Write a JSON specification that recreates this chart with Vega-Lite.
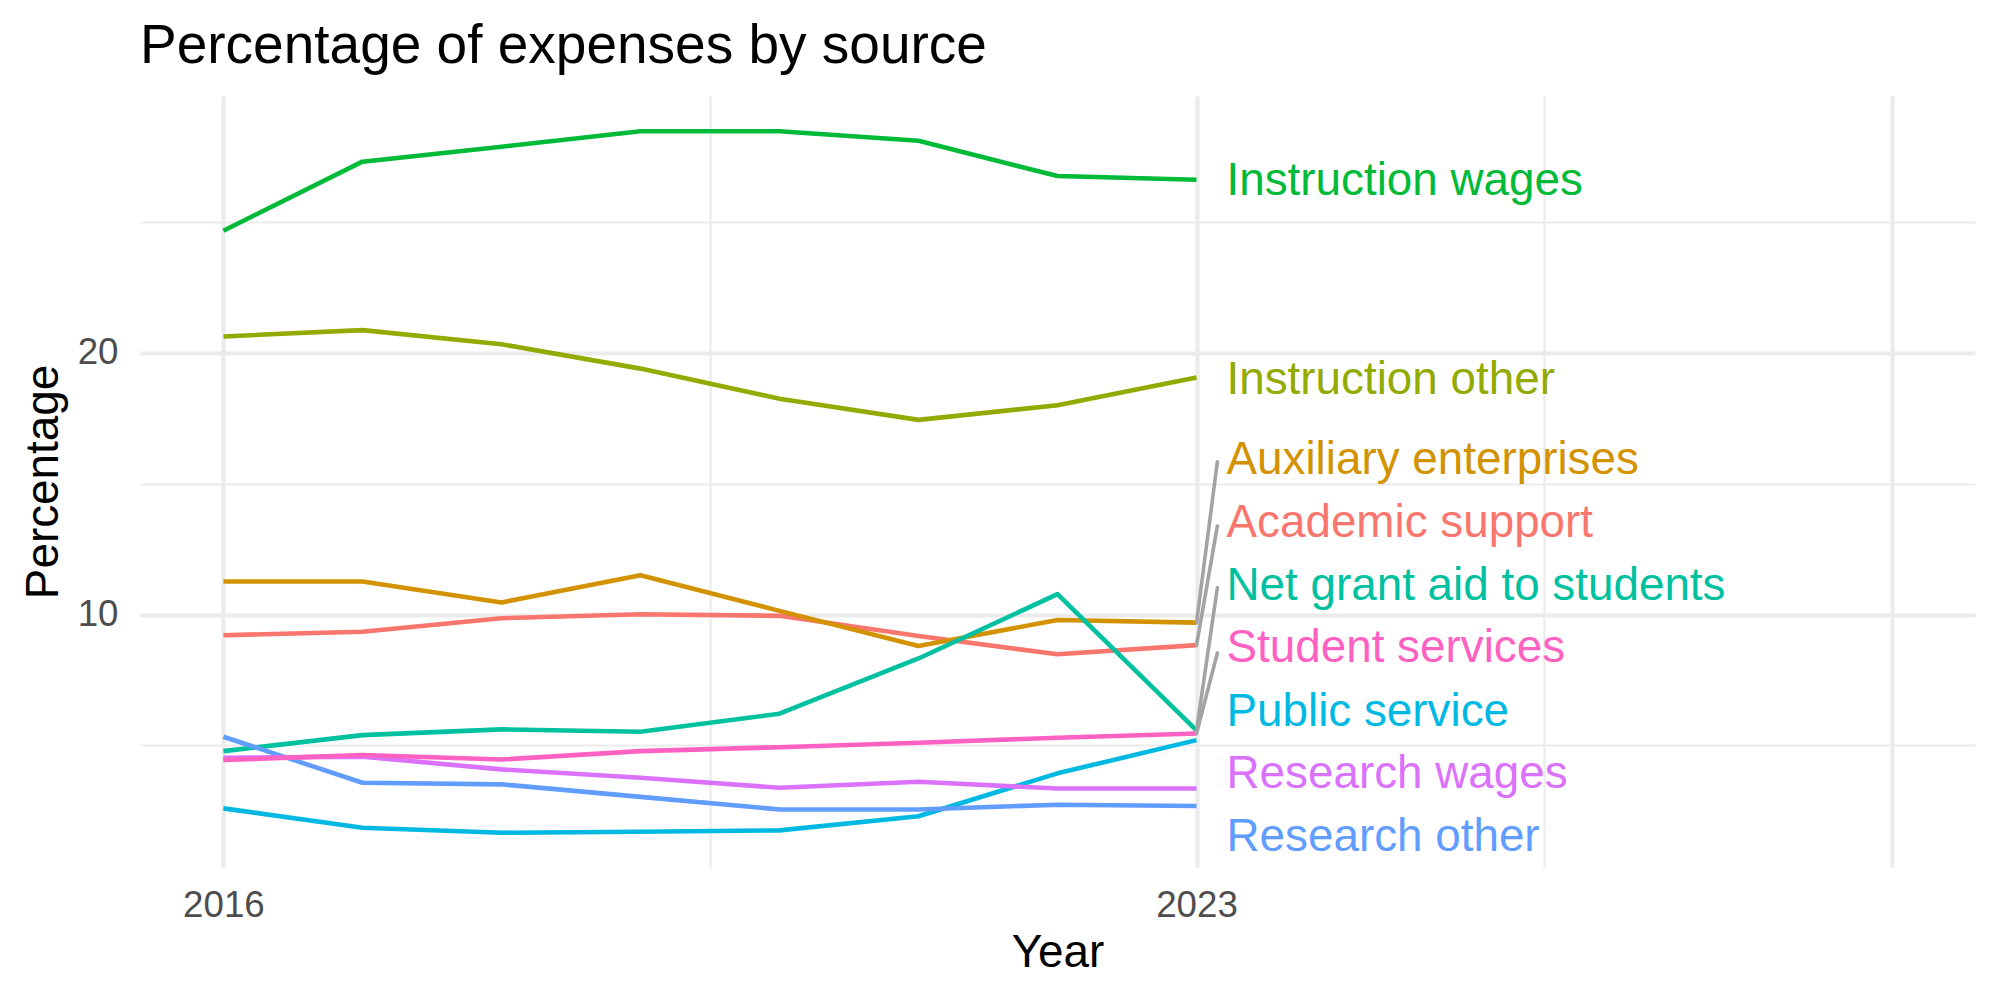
{
  "$schema": "https://vega.github.io/schema/vega-lite/v6.json",
  "width": 1835,
  "height": 771,
  "autosize": {"type": "none"},
  "padding": {"left": 140, "top": 96, "right": 25, "bottom": 133},
  "background": "white",
  "title": {
    "text": "Percentage of expenses by source",
    "anchor": "start",
    "frame": "group",
    "font": "Liberation Sans",
    "fontSize": 55,
    "fontWeight": "normal",
    "color": "#000000",
    "baseline": "alphabetic",
    "offset": 34,
    "dy": 56
  },
  "config": {
    "view": {"stroke": null},
    "axis": {
      "domain": false,
      "ticks": false,
      "grid": true,
      "gridColor": "#ebebeb",
      "labelFont": "Liberation Sans",
      "labelFontSize": 36.7,
      "labelColor": "#4d4d4d",
      "labelOverlap": false,
      "labelFlush": false,
      "labelBound": false,
      "titleFont": "Liberation Sans",
      "titleFontSize": 45.8,
      "titleFontWeight": "normal",
      "titleColor": "#000000"
    }
  },
  "datasets": {
    "expenses": [
      {"source": "Academic support", "year": 2016, "pct": 9.21},
      {"source": "Academic support", "year": 2017, "pct": 9.34},
      {"source": "Academic support", "year": 2018, "pct": 9.86},
      {"source": "Academic support", "year": 2019, "pct": 10.01},
      {"source": "Academic support", "year": 2020, "pct": 9.95},
      {"source": "Academic support", "year": 2021, "pct": 9.18},
      {"source": "Academic support", "year": 2022, "pct": 8.48},
      {"source": "Academic support", "year": 2023, "pct": 8.83},
      {"source": "Auxiliary enterprises", "year": 2016, "pct": 11.26},
      {"source": "Auxiliary enterprises", "year": 2017, "pct": 11.26},
      {"source": "Auxiliary enterprises", "year": 2018, "pct": 10.46},
      {"source": "Auxiliary enterprises", "year": 2019, "pct": 11.5},
      {"source": "Auxiliary enterprises", "year": 2020, "pct": 10.14},
      {"source": "Auxiliary enterprises", "year": 2021, "pct": 8.8},
      {"source": "Auxiliary enterprises", "year": 2022, "pct": 9.79},
      {"source": "Auxiliary enterprises", "year": 2023, "pct": 9.69},
      {"source": "Instruction other", "year": 2016, "pct": 20.63},
      {"source": "Instruction other", "year": 2017, "pct": 20.87},
      {"source": "Instruction other", "year": 2018, "pct": 20.33},
      {"source": "Instruction other", "year": 2019, "pct": 19.4},
      {"source": "Instruction other", "year": 2020, "pct": 18.25},
      {"source": "Instruction other", "year": 2021, "pct": 17.44},
      {"source": "Instruction other", "year": 2022, "pct": 18.0},
      {"source": "Instruction other", "year": 2023, "pct": 19.06},
      {"source": "Instruction wages", "year": 2016, "pct": 24.67},
      {"source": "Instruction wages", "year": 2017, "pct": 27.31},
      {"source": "Instruction wages", "year": 2018, "pct": 27.88},
      {"source": "Instruction wages", "year": 2019, "pct": 28.47},
      {"source": "Instruction wages", "year": 2020, "pct": 28.47},
      {"source": "Instruction wages", "year": 2021, "pct": 28.11},
      {"source": "Instruction wages", "year": 2022, "pct": 26.76},
      {"source": "Instruction wages", "year": 2023, "pct": 26.62},
      {"source": "Net grant aid to students", "year": 2016, "pct": 4.78},
      {"source": "Net grant aid to students", "year": 2017, "pct": 5.39},
      {"source": "Net grant aid to students", "year": 2018, "pct": 5.61},
      {"source": "Net grant aid to students", "year": 2019, "pct": 5.52},
      {"source": "Net grant aid to students", "year": 2020, "pct": 6.21},
      {"source": "Net grant aid to students", "year": 2021, "pct": 8.32},
      {"source": "Net grant aid to students", "year": 2022, "pct": 10.78},
      {"source": "Net grant aid to students", "year": 2023, "pct": 5.57},
      {"source": "Public service", "year": 2016, "pct": 2.59},
      {"source": "Public service", "year": 2017, "pct": 1.85},
      {"source": "Public service", "year": 2018, "pct": 1.66},
      {"source": "Public service", "year": 2019, "pct": 1.7},
      {"source": "Public service", "year": 2020, "pct": 1.75},
      {"source": "Public service", "year": 2021, "pct": 2.29},
      {"source": "Public service", "year": 2022, "pct": 3.93},
      {"source": "Public service", "year": 2023, "pct": 5.2},
      {"source": "Research other", "year": 2016, "pct": 5.33},
      {"source": "Research other", "year": 2017, "pct": 3.57},
      {"source": "Research other", "year": 2018, "pct": 3.51},
      {"source": "Research other", "year": 2019, "pct": 3.03},
      {"source": "Research other", "year": 2020, "pct": 2.55},
      {"source": "Research other", "year": 2021, "pct": 2.55},
      {"source": "Research other", "year": 2022, "pct": 2.73},
      {"source": "Research other", "year": 2023, "pct": 2.68},
      {"source": "Research wages", "year": 2016, "pct": 4.52},
      {"source": "Research wages", "year": 2017, "pct": 4.57},
      {"source": "Research wages", "year": 2018, "pct": 4.08},
      {"source": "Research wages", "year": 2019, "pct": 3.76},
      {"source": "Research wages", "year": 2020, "pct": 3.38},
      {"source": "Research wages", "year": 2021, "pct": 3.61},
      {"source": "Research wages", "year": 2022, "pct": 3.35},
      {"source": "Research wages", "year": 2023, "pct": 3.35},
      {"source": "Student services", "year": 2016, "pct": 4.44},
      {"source": "Student services", "year": 2017, "pct": 4.63},
      {"source": "Student services", "year": 2018, "pct": 4.46},
      {"source": "Student services", "year": 2019, "pct": 4.78},
      {"source": "Student services", "year": 2020, "pct": 4.93},
      {"source": "Student services", "year": 2021, "pct": 5.1},
      {"source": "Student services", "year": 2022, "pct": 5.29},
      {"source": "Student services", "year": 2023, "pct": 5.45}
    ],
    "labels": [
      {"source": "Instruction wages", "year": 2023, "end_pct": 26.62, "label_pct": 26.62},
      {"source": "Instruction other", "year": 2023, "end_pct": 19.06, "label_pct": 19.02},
      {"source": "Auxiliary enterprises", "year": 2023, "end_pct": 9.69, "label_pct": 15.93, "seg_pct": 15.84},
      {"source": "Academic support", "year": 2023, "end_pct": 8.83, "label_pct": 13.55, "seg_pct": 13.38},
      {"source": "Net grant aid to students", "year": 2023, "end_pct": 5.57, "label_pct": 11.14, "seg_pct": 11.02},
      {"source": "Student services", "year": 2023, "end_pct": 5.45, "label_pct": 8.76, "seg_pct": 8.53},
      {"source": "Public service", "year": 2023, "end_pct": 5.2, "label_pct": 6.3},
      {"source": "Research wages", "year": 2023, "end_pct": 3.35, "label_pct": 3.96},
      {"source": "Research other", "year": 2023, "end_pct": 2.68, "label_pct": 1.53}
    ]
  },
  "encoding": {
    "x": {
      "type": "quantitative",
      "scale": {"domain": [2015.4, 2028.6], "nice": false, "zero": false},
      "axis": {
        "title": "Year",
        "values": [2016, 2019.5, 2023, 2025.5, 2028],
        "format": "d",
        "labelExpr": "datum.value == 2016 || datum.value == 2023 ? datum.label : ''",
        "labelPadding": 20,
        "titlePadding": 7,
        "gridWidth": {"condition": {"test": "datum.value == 2019.5 || datum.value == 2025.5", "value": 2.2}, "value": 4.2}
      }
    },
    "y": {
      "type": "quantitative",
      "scale": {"domain": [0.35, 29.82], "nice": false, "zero": false},
      "axis": {
        "title": "Percentage",
        "values": [5, 10, 15, 20, 25],
        "labelExpr": "datum.value % 10 == 0 ? datum.label : ''",
        "labelPadding": 22,
        "titlePadding": 10,
        "gridWidth": {"condition": {"test": "datum.value % 10 != 0", "value": 2.2}, "value": 4.2}
      }
    },
    "color": {
      "field": "source",
      "type": "nominal",
      "legend": null,
      "scale": {
        "domain": ["Academic support", "Auxiliary enterprises", "Instruction other", "Instruction wages", "Net grant aid to students", "Public service", "Research other", "Research wages", "Student services"],
        "range": ["#F8766D", "#D39200", "#93AA00", "#00BA38", "#00C19F", "#00B9E3", "#619CFF", "#DB72FB", "#FF61C3"]
      }
    }
  },
  "layer": [
    {
      "data": {"name": "expenses"},
      "mark": {"type": "line", "strokeWidth": 4.6, "strokeCap": "butt", "strokeJoin": "round"},
      "encoding": {
        "x": {"field": "year", "type": "quantitative"},
        "y": {"field": "pct", "type": "quantitative"}
      }
    },
    {
      "data": {"name": "labels"},
      "transform": [{"filter": "isValid(datum.seg_pct)"}],
      "mark": {"type": "rule", "strokeWidth": 3.6, "strokeCap": "round"},
      "encoding": {
        "x": {"field": "year", "type": "quantitative"},
        "y": {"field": "end_pct", "type": "quantitative"},
        "x2": {"datum": 2023.15},
        "y2": {"field": "seg_pct"},
        "color": {"value": "#a3a3a3"}
      }
    },
    {
      "data": {"name": "labels"},
      "mark": {"type": "text", "align": "left", "baseline": "alphabetic", "dx": 30, "dy": 15, "font": "Liberation Sans", "fontSize": 45.8},
      "encoding": {
        "x": {"field": "year", "type": "quantitative"},
        "y": {"field": "label_pct", "type": "quantitative"},
        "text": {"field": "source", "type": "nominal"}
      }
    }
  ]
}
